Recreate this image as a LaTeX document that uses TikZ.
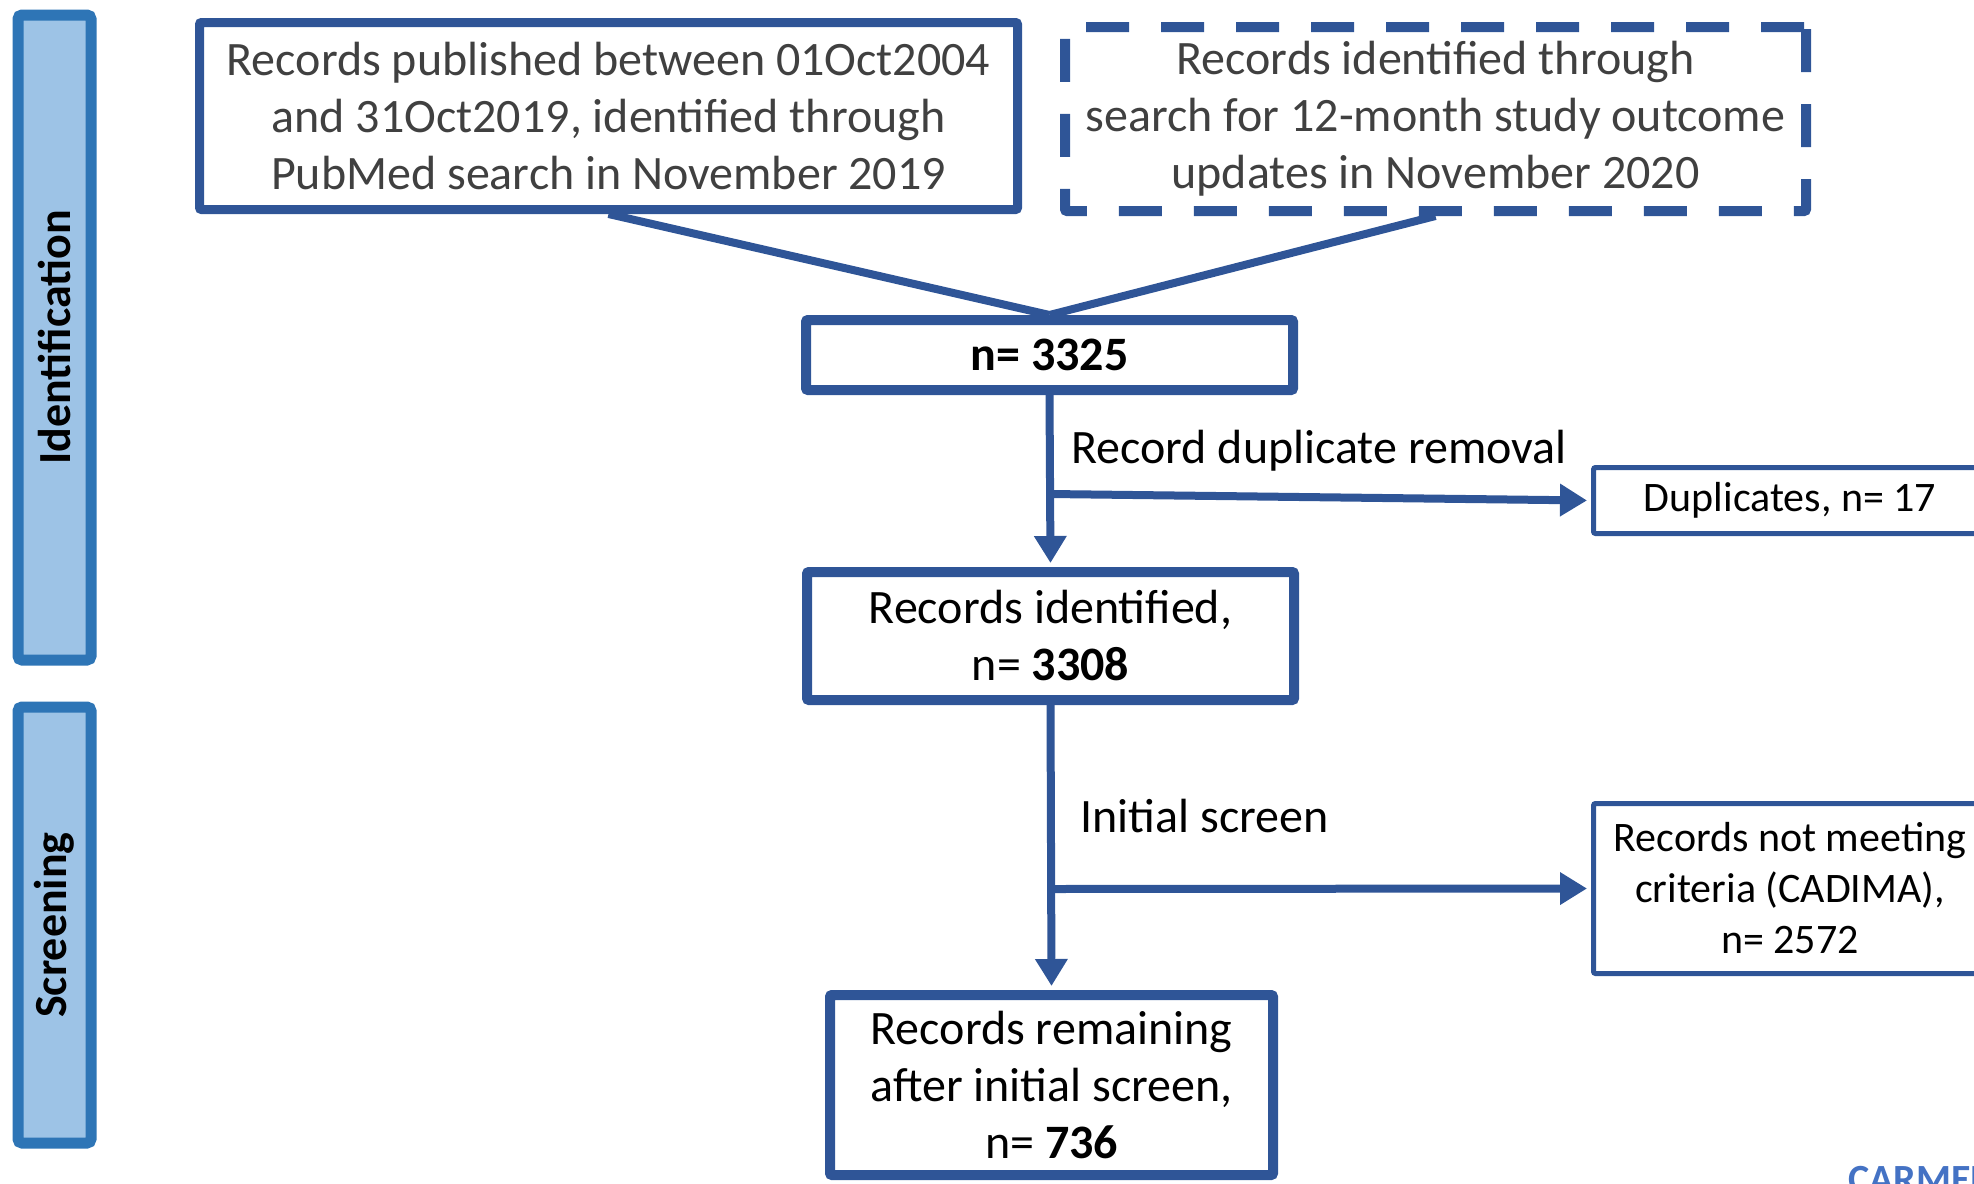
\documentclass[tikz,border=0pt]{standalone}
\usepackage{fontspec}
\setmainfont{Carlito}
\usetikzlibrary{arrows.meta}
\definecolor{flowblue}{HTML}{2F5597}
\definecolor{barblue}{HTML}{2E75B6}
\definecolor{barfill}{HTML}{9DC3E6}
\definecolor{srcgray}{HTML}{404040}
\definecolor{logoblue}{HTML}{4472C4}
\begin{document}
\begin{tikzpicture}[
x = 0.5pt, y = -0.5pt,
bigfont/.style = {font=\fontsize{24pt}{28.5pt}\selectfont},
smallfont/.style = {font=\fontsize{21pt}{25.5pt}\selectfont},
srcbox/.style = {draw=flowblue, line width=4.5pt, rounded corners=1pt, align=center, text=srcgray, bigfont, inner sep=0pt},
mainbox/.style = {draw=flowblue, line width=4.5pt, rounded corners=1pt, align=center, bigfont, inner sep=0pt},
sidebox/.style = {draw=flowblue, line width=2.5pt, rounded corners=1pt, align=center, smallfont, inner sep=0pt},
phase/.style = {draw=barblue, fill=barfill, line width=5.5pt, rounded corners=2pt, inner sep=0pt, rotate=90, font=\bfseries\fontsize{23pt}{28pt}\selectfont},
flow/.style = {draw=flowblue, line width=4pt, -{Triangle[width=15.5pt,length=13.5pt]}, shorten > = 2pt},
merge/.style = {draw=flowblue, line width=4pt},
]
\useasboundingbox (0,0) rectangle (1974,1183);

% phases
\node [phase, minimum width=322.5pt, minimum height=36.5pt] (idphase) at (54.5,337.5) {Identification};
\node [phase, minimum width=218pt, minimum height=36.5pt] (scphase) at (54.5,925) {Screening};

% sources
\node [srcbox, minimum width=409pt, minimum height=93.5pt] (pubmed) at (608.5,116)
  {Records published between 01Oct2004\\and 31Oct2019, identified through\\PubMed search in November 2019};
\node [srcbox, dash pattern=on 21.5pt off 16pt, line width=5pt, minimum width=370.5pt, minimum height=92pt] (update) at (1435.5,119)
  {Records identified through\\search for 12-month study outcome\\updates in November 2020};

% main column
\node [mainbox, line width=5pt, minimum width=243.5pt, minimum height=35pt] (total) at (1049.5,355) {\textbf{n= 3325}};
\node [mainbox, line width=5pt, minimum width=243.5pt, minimum height=64pt] (ident) at (1050.5,636) {Records identified,\\n= \textbf{3308}};
\node [mainbox, line width=5pt, minimum width=221.5pt, minimum height=90pt] (remain) at (1051.5,1085) {Records remaining\\after initial screen,\\n= \textbf{736}};

% exclusions
\node [sidebox, minimum width=196.5pt, minimum height=33pt] (dup) at (1790,500.5) {Duplicates, n= 17};
\node [sidebox, minimum width=196.5pt, minimum height=85pt] (excl) at (1790,888.5) {Records not meeting\\criteria (CADIMA),\\n= 2572};

\node [bigfont, anchor=west, inner sep=0pt] (duplbl) at (1071,451) {Record duplicate removal};
\node [bigfont, anchor=west, inner sep=0pt] (scrlbl) at (1080,816) {Initial screen};

\node [anchor=north west, inner sep=0pt, text=logoblue, font=\bfseries\fontsize{20pt}{24pt}\selectfont] (logo) at (1848,1166) {CARMEN};

\coordinate (dupfork) at (1050,494);
\coordinate (exclfork) at (1051,889);

\path[merge] (pubmed.south) -- (total.north);
\path[merge] (update.south) -- (total.north);
\path[flow] (total.south) -- (ident.north);
\path[flow] (dupfork) -- (dup.west);
\path[flow] (ident.south) -- (remain.north);
\path[flow] (exclfork) -- (excl.west);

\end{tikzpicture}
\end{document}
